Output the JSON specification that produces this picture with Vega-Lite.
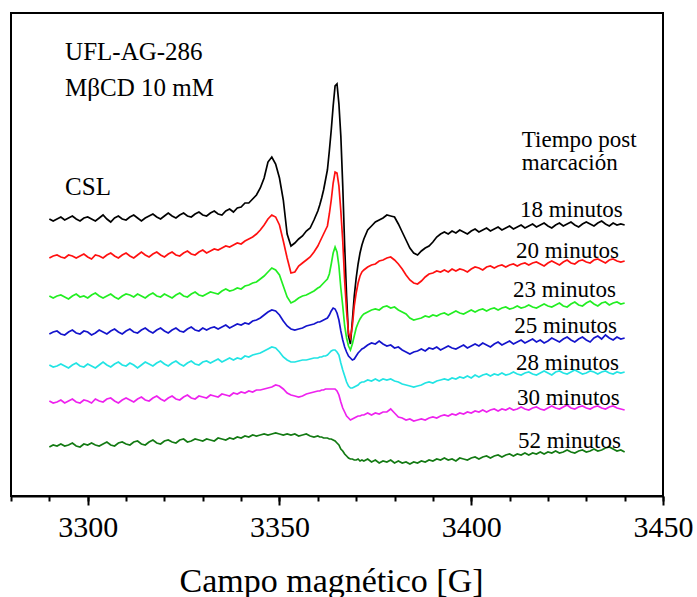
{
"$schema":"https://vega.github.io/schema/vega-lite/v6.json",
"width":652,"height":483,
"autosize":{"type":"none"},
"padding":{"left":11,"top":13,"right":34,"bottom":101},
"config":{"view":{"stroke":"#000000","strokeWidth":2},"font":"Liberation Serif"},
"datasets":{
"spec":[
{"x":3290,"a":277,"b":238,"c":200,"d":162,"e":131,"f":95,"g":49},
{"x":3291,"a":275,"b":240,"c":198,"d":164,"e":129,"f":93,"g":51},
{"x":3292,"a":277,"b":241,"c":200,"d":165,"e":130,"f":94,"g":50},
{"x":3293,"a":279,"b":239,"c":201,"d":162,"e":132,"f":96,"g":52},
{"x":3294,"a":276,"b":238,"c":199,"d":161,"e":130,"f":93,"g":50},
{"x":3295,"a":278,"b":241,"c":197,"d":164,"e":128,"f":95,"g":51},
{"x":3296,"a":280,"b":240,"c":200,"d":166,"e":131,"f":97,"g":53},
{"x":3297,"a":277,"b":238,"c":202,"d":163,"e":133,"f":94,"g":50},
{"x":3298,"a":275,"b":240,"c":199,"d":162,"e":130,"f":93,"g":49},
{"x":3299,"a":278,"b":242,"c":200,"d":165,"e":129,"f":96,"g":52},
{"x":3300,"a":279,"b":239,"c":198,"d":164,"e":132,"f":95,"g":51},
{"x":3301,"a":277,"b":237,"c":201,"d":161,"e":130,"f":93,"g":53},
{"x":3302,"a":275,"b":241,"c":203,"d":163,"e":128,"f":97,"g":51},
{"x":3303,"a":278,"b":240,"c":200,"d":166,"e":131,"f":95,"g":50},
{"x":3304,"a":281,"b":238,"c":198,"d":164,"e":134,"f":94,"g":52},
{"x":3305,"a":277,"b":241,"c":200,"d":162,"e":131,"f":97,"g":54},
{"x":3306,"a":274,"b":243,"c":202,"d":165,"e":129,"f":98,"g":51},
{"x":3307,"a":278,"b":240,"c":199,"d":167,"e":132,"f":95,"g":50},
{"x":3308,"a":280,"b":238,"c":197,"d":164,"e":134,"f":93,"g":53},
{"x":3309,"a":277,"b":241,"c":200,"d":162,"e":131,"f":96,"g":54},
{"x":3310,"a":276,"b":243,"c":202,"d":165,"e":130,"f":98,"g":52},
{"x":3311,"a":279,"b":240,"c":201,"d":167,"e":133,"f":96,"g":51},
{"x":3312,"a":281,"b":238,"c":199,"d":164,"e":131,"f":94,"g":54},
{"x":3313,"a":278,"b":241,"c":202,"d":163,"e":128,"f":97,"g":55},
{"x":3314,"a":275,"b":244,"c":200,"d":166,"e":131,"f":99,"g":52},
{"x":3315,"a":278,"b":241,"c":198,"d":168,"e":134,"f":96,"g":51},
{"x":3316,"a":280,"b":239,"c":201,"d":165,"e":132,"f":95,"g":54},
{"x":3317,"a":282,"b":242,"c":203,"d":163,"e":130,"f":98,"g":56},
{"x":3318,"a":279,"b":244,"c":200,"d":166,"e":133,"f":100,"g":53},
{"x":3319,"a":277,"b":241,"c":199,"d":168,"e":135,"f":97,"g":52},
{"x":3320,"a":280,"b":239,"c":202,"d":165,"e":132,"f":95,"g":55},
{"x":3321,"a":283,"b":242,"c":200,"d":163,"e":130,"f":98,"g":56},
{"x":3322,"a":280,"b":244,"c":198,"d":166,"e":133,"f":100,"g":54},
{"x":3323,"a":278,"b":241,"c":201,"d":168,"e":135,"f":97,"g":53},
{"x":3324,"a":281,"b":240,"c":203,"d":165,"e":132,"f":96,"g":56},
{"x":3325,"a":283,"b":243,"c":200,"d":164,"e":130,"f":99,"g":57},
{"x":3326,"a":280,"b":245,"c":199,"d":167,"e":133,"f":101,"g":54},
{"x":3327,"a":279,"b":242,"c":202,"d":169,"e":135,"f":98,"g":55},
{"x":3328,"a":282,"b":241,"c":204,"d":166,"e":132,"f":97,"g":57},
{"x":3329,"a":284,"b":244,"c":201,"d":165,"e":131,"f":100,"g":56},
{"x":3330,"a":281,"b":246,"c":200,"d":168,"e":134,"f":99,"g":55},
{"x":3331,"a":280,"b":243,"c":202,"d":166,"e":135,"f":98,"g":57},
{"x":3332,"a":283,"b":245,"c":204,"d":168,"e":133,"f":101,"g":56},
{"x":3333,"a":285,"b":247,"c":203,"d":169,"e":135,"f":100,"g":55},
{"x":3334,"a":282,"b":246,"c":202,"d":167,"e":137,"f":99,"g":58},
{"x":3335,"a":281,"b":248,"c":205,"d":169,"e":134,"f":102,"g":57},
{"x":3336,"a":285,"b":250,"c":207,"d":171,"e":136,"f":101,"g":56},
{"x":3337,"a":287,"b":249,"c":205,"d":168,"e":138,"f":100,"g":58},
{"x":3338,"a":284,"b":251,"c":206,"d":170,"e":136,"f":103,"g":57},
{"x":3339,"a":288,"b":253,"c":208,"d":172,"e":138,"f":102,"g":59},
{"x":3340,"a":289,"b":252,"c":207,"d":171,"e":137,"f":104,"g":58},
{"x":3341,"a":293,"b":255,"c":210,"d":173,"e":140,"f":103,"g":60},
{"x":3342,"a":293,"b":257,"c":211,"d":172,"e":139,"f":105,"g":59},
{"x":3343,"a":297,"b":259,"c":213,"d":175,"e":141,"f":104,"g":61},
{"x":3344,"a":301,"b":262,"c":214,"d":176,"e":142,"f":106,"g":60},
{"x":3345,"a":308,"b":266,"c":217,"d":178,"e":143,"f":106,"g":61},
{"x":3346,"a":318,"b":271,"c":220,"d":181,"e":145,"f":107,"g":62},
{"x":3347,"a":334,"b":277,"c":224,"d":184,"e":147,"f":108,"g":61},
{"x":3348,"a":339,"b":281,"c":228,"d":186,"e":149,"f":109,"g":62},
{"x":3349,"a":332,"b":279,"c":226,"d":185,"e":148,"f":111,"g":63},
{"x":3350,"a":318,"b":271,"c":221,"d":181,"e":144,"f":110,"g":62},
{"x":3351,"a":296,"b":255,"c":210,"d":175,"e":139,"f":107,"g":61},
{"x":3352,"a":262,"b":238,"c":199,"d":170,"e":136,"f":103,"g":62},
{"x":3353,"a":250,"b":223,"c":193,"d":167,"e":134,"f":101,"g":61},
{"x":3354,"a":253,"b":224,"c":195,"d":166,"e":134,"f":100,"g":62},
{"x":3355,"a":257,"b":230,"c":198,"d":167,"e":135,"f":99,"g":60},
{"x":3356,"a":260,"b":233,"c":200,"d":168,"e":136,"f":100,"g":61},
{"x":3357,"a":265,"b":236,"c":201,"d":170,"e":136,"f":102,"g":62},
{"x":3358,"a":268,"b":239,"c":203,"d":171,"e":137,"f":103,"g":60},
{"x":3359,"a":276,"b":244,"c":205,"d":172,"e":138,"f":104,"g":59},
{"x":3360,"a":285,"b":250,"c":208,"d":174,"e":138,"f":105,"g":60},
{"x":3360.5,"a":291,"b":254,"c":209,"d":174,"e":139,"f":105,"g":59},
{"x":3361,"a":298,"b":258,"c":211,"d":175,"e":139,"f":106,"g":59},
{"x":3361.5,"a":306,"b":262,"c":213,"d":176,"e":140,"f":106,"g":58},
{"x":3362,"a":316,"b":266,"c":215,"d":177,"e":140,"f":107,"g":58},
{"x":3362.5,"a":326,"b":270,"c":217,"d":178,"e":141,"f":107,"g":58},
{"x":3363,"a":345,"b":282,"c":222,"d":181,"e":143,"f":107,"g":57},
{"x":3363.5,"a":366,"b":296,"c":232,"d":185,"e":145,"f":107,"g":57},
{"x":3364,"a":390,"b":313,"c":243,"d":188,"e":146,"f":107,"g":56},
{"x":3364.5,"a":410,"b":324,"c":249,"d":187,"e":146,"f":107,"g":55},
{"x":3365,"a":412,"b":323,"c":244,"d":183,"e":144,"f":105,"g":53},
{"x":3365.5,"a":392,"b":310,"c":230,"d":176,"e":141,"f":101,"g":51},
{"x":3366,"a":360,"b":285,"c":208,"d":165,"e":133,"f":94,"g":47},
{"x":3366.5,"a":310,"b":255,"c":190,"d":156,"e":126,"f":88,"g":45},
{"x":3367,"a":250,"b":215,"c":170,"d":149,"e":120,"f":84,"g":42},
{"x":3367.5,"a":200,"b":185,"c":158,"d":144,"e":114,"f":80,"g":40},
{"x":3368,"a":160,"b":163,"c":150,"d":140,"e":110,"f":78,"g":38},
{"x":3368.5,"a":152,"b":158,"c":146,"d":138,"e":108,"f":76,"g":37},
{"x":3369,"a":175,"b":170,"c":152,"d":136,"e":108,"f":77,"g":37},
{"x":3369.5,"a":200,"b":190,"c":160,"d":137,"e":109,"f":78,"g":36},
{"x":3370,"a":218,"b":203,"c":168,"d":140,"e":110,"f":79,"g":36},
{"x":3370.5,"a":232,"b":213,"c":173,"d":143,"e":111,"f":80,"g":37},
{"x":3371,"a":243,"b":220,"c":177,"d":145,"e":113,"f":80,"g":35},
{"x":3371.5,"a":251,"b":224,"c":180,"d":147,"e":114,"f":81,"g":36},
{"x":3372,"a":257,"b":226,"c":182,"d":148,"e":114,"f":81,"g":35},
{"x":3373,"a":266,"b":229,"c":184,"d":151,"e":116,"f":83,"g":37},
{"x":3374,"a":270,"b":231,"c":186,"d":153,"e":115,"f":81,"g":34},
{"x":3375,"a":274,"b":232,"c":187,"d":152,"e":117,"f":83,"g":36},
{"x":3376,"a":276,"b":235,"c":186,"d":155,"e":115,"f":82,"g":33},
{"x":3377,"a":278,"b":236,"c":189,"d":152,"e":117,"f":84,"g":35},
{"x":3378,"a":281,"b":238,"c":190,"d":150,"e":116,"f":84,"g":34},
{"x":3379,"a":280,"b":239,"c":188,"d":151,"e":117,"f":87,"g":36},
{"x":3380,"a":279,"b":236,"c":189,"d":148,"e":115,"f":83,"g":33},
{"x":3381,"a":272,"b":232,"c":186,"d":149,"e":114,"f":79,"g":35},
{"x":3382,"a":264,"b":227,"c":184,"d":146,"e":112,"f":78,"g":33},
{"x":3383,"a":256,"b":221,"c":182,"d":144,"e":111,"f":76,"g":34},
{"x":3384,"a":248,"b":216,"c":178,"d":142,"e":110,"f":77,"g":32},
{"x":3385,"a":243,"b":213,"c":176,"d":144,"e":109,"f":75,"g":34},
{"x":3386,"a":241,"b":212,"c":177,"d":145,"e":110,"f":76,"g":33},
{"x":3387,"a":245,"b":215,"c":178,"d":147,"e":111,"f":77,"g":35},
{"x":3388,"a":248,"b":219,"c":180,"d":145,"e":113,"f":76,"g":34},
{"x":3389,"a":250,"b":222,"c":179,"d":148,"e":114,"f":78,"g":36},
{"x":3390,"a":254,"b":223,"c":181,"d":147,"e":113,"f":79,"g":35},
{"x":3391,"a":259,"b":225,"c":180,"d":149,"e":115,"f":78,"g":37},
{"x":3392,"a":262,"b":224,"c":182,"d":146,"e":116,"f":80,"g":36},
{"x":3393,"a":264,"b":226,"c":183,"d":148,"e":117,"f":81,"g":38},
{"x":3394,"a":262,"b":224,"c":181,"d":150,"e":116,"f":80,"g":36},
{"x":3395,"a":265,"b":227,"c":183,"d":148,"e":118,"f":82,"g":37},
{"x":3396,"a":263,"b":225,"c":185,"d":147,"e":117,"f":81,"g":35},
{"x":3397,"a":266,"b":227,"c":183,"d":149,"e":119,"f":83,"g":38},
{"x":3398,"a":264,"b":226,"c":182,"d":151,"e":118,"f":82,"g":37},
{"x":3399,"a":262,"b":224,"c":184,"d":148,"e":120,"f":84,"g":36},
{"x":3400,"a":265,"b":227,"c":186,"d":150,"e":118,"f":83,"g":38},
{"x":3401,"a":267,"b":229,"c":184,"d":152,"e":121,"f":85,"g":39},
{"x":3402,"a":264,"b":228,"c":186,"d":150,"e":119,"f":84,"g":37},
{"x":3403,"a":266,"b":226,"c":187,"d":153,"e":121,"f":86,"g":39},
{"x":3404,"a":268,"b":229,"c":185,"d":151,"e":122,"f":84,"g":40},
{"x":3405,"a":265,"b":230,"c":187,"d":149,"e":120,"f":86,"g":38},
{"x":3406,"a":267,"b":228,"c":188,"d":152,"e":122,"f":87,"g":40},
{"x":3407,"a":269,"b":230,"c":186,"d":154,"e":121,"f":85,"g":41},
{"x":3408,"a":266,"b":231,"c":188,"d":151,"e":123,"f":87,"g":39},
{"x":3409,"a":268,"b":229,"c":189,"d":153,"e":121,"f":86,"g":41},
{"x":3410,"a":270,"b":231,"c":187,"d":155,"e":122,"f":88,"g":42},
{"x":3411,"a":267,"b":232,"c":188,"d":152,"e":124,"f":86,"g":40},
{"x":3412,"a":269,"b":230,"c":190,"d":154,"e":122,"f":87,"g":42},
{"x":3413,"a":271,"b":232,"c":188,"d":156,"e":121,"f":89,"g":41},
{"x":3414,"a":268,"b":233,"c":189,"d":153,"e":123,"f":87,"g":43},
{"x":3415,"a":270,"b":231,"c":191,"d":155,"e":124,"f":86,"g":41},
{"x":3416,"a":272,"b":233,"c":189,"d":157,"e":122,"f":88,"g":43},
{"x":3417,"a":269,"b":234,"c":188,"d":154,"e":121,"f":89,"g":42},
{"x":3418,"a":271,"b":232,"c":190,"d":156,"e":123,"f":87,"g":44},
{"x":3419,"a":273,"b":230,"c":192,"d":153,"e":125,"f":86,"g":42},
{"x":3420,"a":270,"b":233,"c":190,"d":155,"e":123,"f":88,"g":44},
{"x":3421,"a":268,"b":235,"c":189,"d":158,"e":121,"f":90,"g":43},
{"x":3422,"a":271,"b":233,"c":191,"d":156,"e":124,"f":88,"g":45},
{"x":3423,"a":273,"b":231,"c":193,"d":154,"e":125,"f":87,"g":43},
{"x":3424,"a":270,"b":234,"c":190,"d":157,"e":123,"f":89,"g":44},
{"x":3425,"a":272,"b":236,"c":189,"d":159,"e":122,"f":91,"g":46},
{"x":3426,"a":274,"b":233,"c":192,"d":156,"e":124,"f":88,"g":44},
{"x":3427,"a":271,"b":232,"c":194,"d":154,"e":126,"f":87,"g":43},
{"x":3428,"a":269,"b":235,"c":191,"d":157,"e":124,"f":89,"g":45},
{"x":3429,"a":272,"b":236,"c":190,"d":159,"e":122,"f":90,"g":46},
{"x":3430,"a":274,"b":234,"c":193,"d":156,"e":123,"f":88,"g":44},
{"x":3431,"a":272,"b":233,"c":195,"d":154,"e":125,"f":87,"g":45},
{"x":3432,"a":270,"b":236,"c":192,"d":158,"e":124,"f":89,"g":47},
{"x":3433,"a":273,"b":237,"c":190,"d":160,"e":122,"f":90,"g":45},
{"x":3434,"a":275,"b":235,"c":193,"d":157,"e":124,"f":88,"g":46},
{"x":3435,"a":272,"b":233,"c":194,"d":161,"e":125,"f":87,"g":48},
{"x":3436,"a":270,"b":236,"c":191,"d":158,"e":123,"f":89,"g":49},
{"x":3437,"a":273,"b":237,"c":193,"d":156,"e":122,"f":90,"g":47},
{"x":3438,"a":271,"b":235,"c":194,"d":159,"e":124,"f":88,"g":45},
{"x":3439,"a":272,"b":234,"c":192,"d":157,"e":123,"f":87,"g":46},
{"x":3440,"a":271,"b":235,"c":193,"d":158,"e":124,"f":86,"g":44}
],
"ann":[
{"x":3294.1,"y":436,"t":"UFL-AG-286"},
{"x":3294.1,"y":400,"t":"MβCD 10 mM"},
{"x":3294.1,"y":301,"t":"CSL"}
],
"lab":[
{"x":3413.2,"y":349,"t":"Tiempo post"},
{"x":3413.2,"y":326,"t":"marcación"},
{"x":3412.7,"y":279,"t":"18 minutos"},
{"x":3411.7,"y":238,"t":"20 minutos"},
{"x":3410.9,"y":199,"t":"23 minutos"},
{"x":3411.2,"y":163,"t":"25 minutos"},
{"x":3411.7,"y":126,"t":"28 minutos"},
{"x":3411.9,"y":91,"t":"30 minutos"},
{"x":3412.2,"y":48,"t":"52 minutos"}
]
},
"layer":[
{
"data":{"name":"spec"},
"transform":[{"fold":["a","b","c","d","e","f","g"],"as":["k","v"]}],
"mark":{"type":"line","strokeWidth":1.7},
"encoding":{
"x":{"field":"x","type":"quantitative","scale":{"domain":[3280,3450],"nice":false,"zero":false},
"axis":{"orient":"bottom","values":[3300,3350,3400,3450],"format":"d","grid":false,"domain":true,"domainColor":"#000000","domainWidth":2,"ticks":true,"tickColor":"#000000","tickWidth":2,"tickSize":9,"labelFont":"Liberation Serif","labelFontSize":30,"labelColor":"#000000","labelPadding":7,"labelFlush":false,"labelOverlap":false,"labelBound":false,"title":"Campo magnético [G]","titleFont":"Liberation Serif","titleFontSize":34,"titleFontWeight":"normal","titleColor":"#000000","titlePadding":22,"titleX":320,"titleAlign":"center"}},
"y":{"field":"v","type":"quantitative","scale":{"domain":[0,483],"nice":false,"zero":false},"axis":null},
"color":{"field":"k","type":"nominal","scale":{"domain":["a","b","c","d","e","f","g"],"range":["#000000","#ff1010","#22ee22","#1414cc","#22e4e4","#ee22ee","#137a13"]},"legend":null}
}
},
{
"data":{"name":"ann"},
"mark":{"type":"text","align":"left","baseline":"alphabetic","font":"Liberation Serif","fontSize":25,"color":"#000000"},
"encoding":{
"x":{"field":"x","type":"quantitative","axis":{"orient":"bottom","values":[3280,3290,3300,3310,3320,3330,3340,3350,3360,3370,3380,3390,3400,3410,3420,3430,3440,3450],"grid":false,"domain":false,"labels":false,"ticks":true,"tickColor":"#000000","tickWidth":2,"tickSize":5,"title":null}},
"y":{"field":"y","type":"quantitative"},
"text":{"field":"t"}
}
},
{
"data":{"name":"lab"},
"mark":{"type":"text","align":"left","baseline":"alphabetic","font":"Liberation Serif","fontSize":23,"color":"#000000"},
"encoding":{
"x":{"field":"x","type":"quantitative","axis":null},
"y":{"field":"y","type":"quantitative"},
"text":{"field":"t"}
}
}
],
"resolve":{"axis":{"x":"independent"}}
}
